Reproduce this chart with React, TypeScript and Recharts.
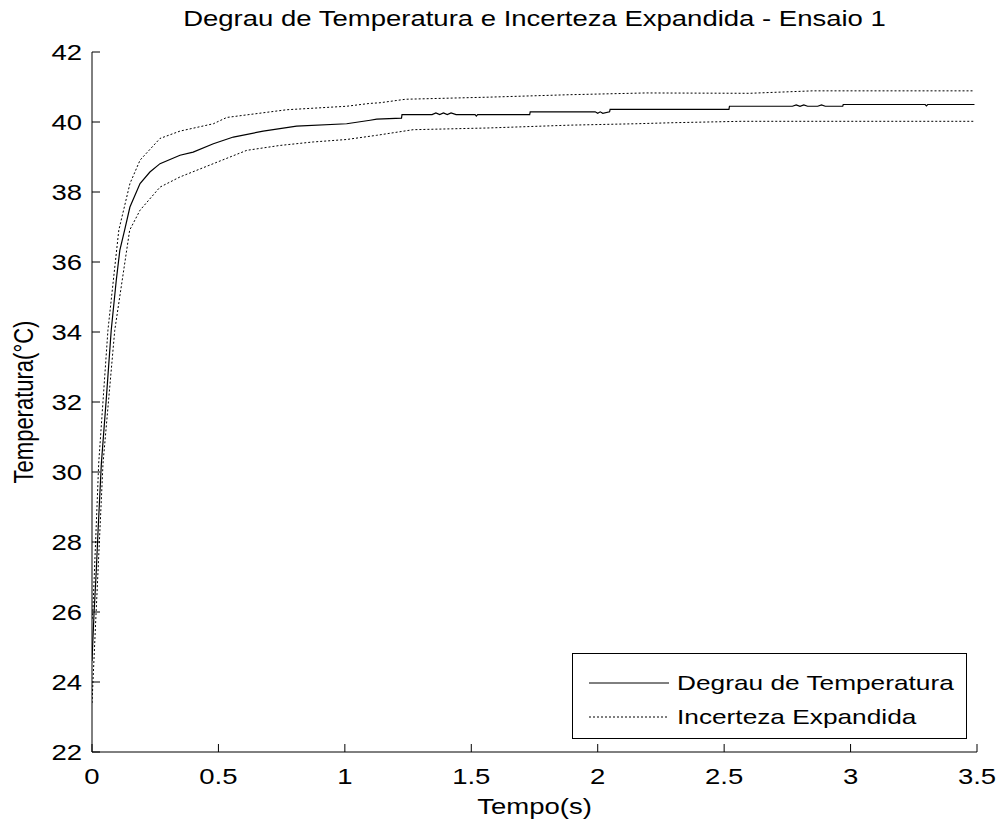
import { LineChart, Line, XAxis, YAxis, Legend } from 'recharts'

// tempo (s) e temperatura (°C)
const degrauTempo = [
  0, 0.008, 0.017, 0.024, 0.037, 0.057, 0.076, 0.096, 0.11, 0.129, 0.15, 0.19, 0.229, 0.269, 0.348, 0.4,
  0.48, 0.559, 0.677, 0.809, 1.007, 1.1, 1.126, 1.224, 1.226, 1.345, 1.36, 1.375, 1.39, 1.405, 1.42, 1.44,
  1.515, 1.52, 1.525, 1.731, 1.733, 1.99, 2.0, 2.01, 2.02, 2.047, 2.049, 2.519, 2.521, 2.77, 2.785, 2.8,
  2.815, 2.83, 2.87, 2.885, 2.9, 2.969, 2.971, 3.295, 3.3, 3.305, 3.49,
]
const degrauTemp = [
  24.6, 25.95, 27.19, 28.33, 30.24, 32.14, 34.05, 35.48, 36.33, 36.91, 37.57, 38.24, 38.57, 38.81, 39.05, 39.14,
  39.38, 39.57, 39.74, 39.88, 39.95, 40.05, 40.08, 40.11, 40.21, 40.21, 40.26, 40.21, 40.26, 40.21, 40.26, 40.21,
  40.21, 40.17, 40.21, 40.21, 40.29, 40.29, 40.25, 40.29, 40.25, 40.29, 40.36, 40.36, 40.45, 40.45, 40.49, 40.45,
  40.49, 40.45, 40.45, 40.49, 40.45, 40.45, 40.5, 40.5, 40.46, 40.5, 40.5,
]

const superiorTempo = [
  0, 0.003, 0.0265, 0.063, 0.106, 0.15, 0.19, 0.269, 0.348, 0.48, 0.533, 0.77, 1.007, 1.097, 1.139, 1.24,
  1.57, 1.89, 2.19, 2.6, 2.85, 3.49,
]
const superiorTemp = [
  25.8, 25.95, 30.25, 34.05, 36.91, 38.24, 38.91, 39.53, 39.74, 39.95, 40.13, 40.35, 40.45, 40.53, 40.55, 40.65,
  40.71, 40.78, 40.83, 40.82, 40.89, 40.89,
]

const inferiorTempo = [
  0, 0.016, 0.0435, 0.09, 0.149, 0.19, 0.269, 0.348, 0.48, 0.612, 0.743, 0.875, 1.007, 1.126, 1.27, 1.57,
  1.89, 2.15, 2.3, 2.57, 3.49,
]
const inferiorTemp = [
  23.4, 25.95, 30.24, 34.05, 36.91, 37.48, 38.14, 38.43, 38.81, 39.19, 39.33, 39.43, 39.5, 39.62, 39.78, 39.83,
  39.91, 39.95, 39.98, 40.02, 40.02,
]

const xTicks = [0, 0.5, 1, 1.5, 2, 2.5, 3, 3.5]
const yTicks = [22, 24, 26, 28, 30, 32, 34, 36, 38, 40, 42]

const FONT = '"Liberation Sans", Arial, Helvetica, sans-serif'
const FS = 22
const SX = 1.25 // o texto do original é mais largo que o Arial
const TICK = 8

const toRows = (ts: number[], vs: number[]) => ts.map((t, i) => ({ t, v: vs[i] }))

const WideText = ({ x, y, anchor, dy, rotate, children }: any) => (
  <g transform={`translate(${x},${y}) scale(${SX},1)${rotate ? ' rotate(-90)' : ''}`}>
    <text x={0} y={0} dy={dy} textAnchor={anchor} fontFamily={FONT} fontSize={FS} fill="#000">
      {children}
    </text>
  </g>
)

const BottomTick = (props: any) => {
  const { x, y, payload } = props
  const base = y - 16
  return (
    <g>
      <line x1={x} x2={x} y1={base} y2={base - TICK} stroke="#000" />
      <WideText x={x} y={y} anchor="middle" dy="0.71em">
        {payload.value}
      </WideText>
    </g>
  )
}

const LeftTick = (props: any) => {
  const { x, y, payload } = props
  const base = x + 10
  return (
    <g>
      <line x1={base} x2={base + TICK} y1={y} y2={y} stroke="#000" />
      <WideText x={x} y={y} anchor="end" dy="0.36em">
        {payload.value}
      </WideText>
    </g>
  )
}

const TopTick = (props: any) => {
  const { x, y } = props
  return <line x1={x} x2={x} y1={y} y2={y + TICK} stroke="#000" />
}

const RightTick = (props: any) => {
  const { x, y } = props
  return <line x1={x} x2={x - TICK} y1={y} y2={y} stroke="#000" />
}

const YLabel = (props: any) => {
  const { viewBox } = props
  return (
    <WideText x={viewBox.x + 23} y={viewBox.y + viewBox.height / 2} anchor="middle" dy="0.36em" rotate>
      Temperatura(°C)
    </WideText>
  )
}

const XLabel = (props: any) => {
  const { viewBox } = props
  return (
    <WideText x={viewBox.x + viewBox.width / 2} y={viewBox.y + 54} anchor="middle" dy="0.36em">
      Tempo(s)
    </WideText>
  )
}

const legendItems = [
  { nome: 'Degrau de Temperatura', dash: undefined },
  { nome: 'Incerteza Expandida', dash: '2 2' },
]

const LegendBox = () => (
  <div
    style={{
      width: 395,
      height: 86,
      boxSizing: 'border-box',
      border: '1px solid #000',
      background: '#fff',
      fontFamily: FONT,
      fontSize: 21,
      color: '#000',
      paddingTop: 12,
    }}
  >
    {legendItems.map((it) => (
      <div key={it.nome} style={{ display: 'flex', alignItems: 'center', height: 34 }}>
        <svg width={104} height={10} style={{ display: 'block', flex: 'none' }}>
          <line x1={16} x2={96} y1={5} y2={5} stroke="#000" strokeWidth={1} strokeDasharray={it.dash} />
        </svg>
        <span style={{ display: 'inline-block', transform: `scaleX(${SX})`, transformOrigin: 'left center', whiteSpace: 'nowrap' }}>
          {it.nome}
        </span>
      </div>
    ))}
  </div>
)

export default function App() {
  return (
    <div style={{ position: 'absolute', left: 0, top: 0, width: 1002, height: 827, background: '#fff' }}>
      <div
        style={{
          position: 'absolute',
          left: 92,
          width: 885,
          top: 7,
          textAlign: 'center',
          fontFamily: FONT,
          fontSize: FS,
          lineHeight: '24px',
          color: '#000',
          transform: `scaleX(${SX})`,
          transformOrigin: 'center',
          whiteSpace: 'nowrap',
        }}
      >
        Degrau de Temperatura e Incerteza Expandida - Ensaio 1
      </div>
      <LineChart width={1002} height={827} margin={{ top: 52, right: 25, bottom: 0, left: 0 }}>
        <XAxis
          dataKey="t"
          type="number"
          domain={[0, 3.5]}
          ticks={xTicks}
          allowDataOverflow
          height={75}
          tickSize={0}
          tickMargin={16}
          tickLine={false}
          axisLine={{ stroke: '#000' }}
          tick={<BottomTick />}
          interval={0}
          label={<XLabel />}
        />
        <XAxis
          xAxisId="top"
          orientation="top"
          type="number"
          domain={[0, 3.5]}
          ticks={xTicks}
          allowDataOverflow
          height={0}
          tickSize={0}
          tickMargin={0}
          tickLine={false}
          axisLine={{ stroke: '#000' }}
          tick={<TopTick />}
          interval={0}
        />
        <YAxis
          type="number"
          domain={[22, 42]}
          ticks={yTicks}
          allowDataOverflow
          width={92}
          tickSize={0}
          tickMargin={10}
          tickLine={false}
          axisLine={{ stroke: '#000' }}
          tick={<LeftTick />}
          interval={0}
          label={<YLabel />}
        />
        <YAxis
          yAxisId="right"
          orientation="right"
          type="number"
          domain={[22, 42]}
          ticks={yTicks}
          allowDataOverflow
          width={0}
          tickSize={0}
          tickMargin={0}
          tickLine={false}
          axisLine={{ stroke: '#000' }}
          tick={<RightTick />}
          interval={0}
        />
        <Line
          data={toRows(superiorTempo, superiorTemp)}
          dataKey="v"
          type="linear"
          stroke="#000"
          strokeWidth={1}
          strokeDasharray="2 2"
          dot={false}
          isAnimationActive={false}
        />
        <Line
          data={toRows(inferiorTempo, inferiorTemp)}
          dataKey="v"
          type="linear"
          stroke="#000"
          strokeWidth={1}
          strokeDasharray="2 2"
          dot={false}
          isAnimationActive={false}
        />
        <Line
          data={toRows(degrauTempo, degrauTemp)}
          dataKey="v"
          type="linear"
          stroke="#000"
          strokeWidth={1.2}
          dot={false}
          isAnimationActive={false}
        />
        <Legend
          layout="vertical"
          align="center"
          verticalAlign="middle"
          content={<LegendBox />}
          wrapperStyle={{ left: 572, top: 653, width: 395, height: 86, bottom: 'auto', right: 'auto' }}
        />
      </LineChart>
    </div>
  )
}
